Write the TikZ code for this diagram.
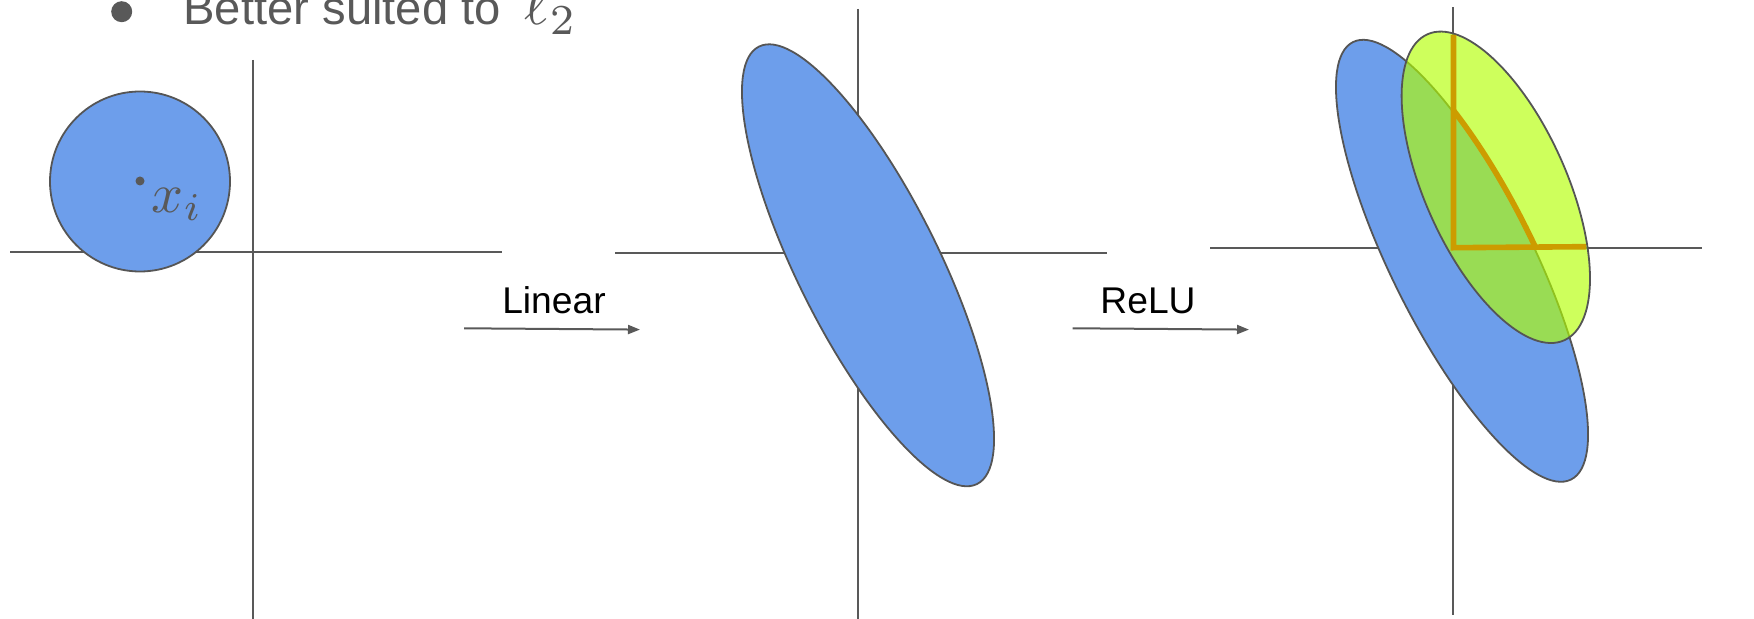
\documentclass[tikz,border=0pt]{standalone}
\usepackage{graphicx}
\usepackage{fontspec}
\setmainfont{Liberation Sans}
\usetikzlibrary{arrows.meta}
\definecolor{axisgrey}{HTML}{595959}
\definecolor{edgegrey}{HTML}{555555}
\definecolor{cornblue}{HTML}{6D9EEB}
\definecolor{limefill}{RGB}{178,255,0}
\definecolor{goldline}{RGB}{204,156,0}
\tikzset{
  axisline/.style={draw=axisgrey, line width=1pt},
  blob/.style={draw=edgegrey, line width=0.9pt, fill=cornblue},
  limeblob/.style={draw=edgegrey, line width=0.9pt, fill=limefill, fill opacity=0.64},
  mapArrow/.style={draw=axisgrey, line width=1pt, -{Triangle[length=6pt,width=4.5pt]}},
  maplabel/.style={inner sep=0pt, anchor=base, font=\fontsize{18.6pt}{22pt}\selectfont},
  relupath/.style={draw=goldline, line width=2.8pt}
}
\begin{document}
\begin{tikzpicture}[x=0.5pt, y=-0.5pt]
\useasboundingbox (0,0) rectangle (1754,619);

% title
\fill[axisgrey] (121.7,11.7) circle [radius=10.5];
\node[inner sep=0pt, anchor=base west, text=axisgrey, font=\fontsize{23.6pt}{28pt}\selectfont] (title) at (183,25) {Better suited to};
\node[inner sep=0pt, anchor=base west, text=axisgrey] (ltwo) at (524,25) {\scalebox{3.05}{$\ell_2$}};

% panel 1
\draw[axisline] (253,60) -- (253,619);
\draw[axisline] (10,252) -- (502,252);
\draw[blob] (140,181.5) circle [radius=90];
\fill[axisgrey] (140,181) circle [radius=4.5];
\node[inner sep=0pt, anchor=base west, text=axisgrey] (xi) at (151.5,212.5) {\scalebox{2.8}{$x_i$}};

% arrow 1
\coordinate (a1s) at (464,328.3);
\coordinate (a1e) at (640,329.6);
\draw[mapArrow] (a1s) -- (a1e);
\node[maplabel] (lin) at (554,313.3) {Linear};

% panel 2
\draw[axisline] (858.3,9) -- (858.3,619);
\draw[axisline] (615,252.8) -- (1107,252.8);
\draw[blob, shift={(868,265.3)}, rotate=-63.5] (0,0) ellipse [x radius=244.4, y radius=70.6];

% arrow 2
\coordinate (a2s) at (1072.7,328.3);
\coordinate (a2e) at (1249,329.6);
\draw[mapArrow] (a2s) -- (a2e);
\node[maplabel] (relu) at (1148,313.3) {ReLU};

% panel 3
\draw[axisline] (1452.7,7.3) -- (1452.7,615);
\draw[axisline] (1210,248) -- (1702,248);
\draw[blob, shift={(1462,260.8)}, rotate=-63.5] (0,0) ellipse [x radius=244.4, y radius=70.6];
\draw[limeblob, shift={(1495.8,187.3)}, rotate=-65.9] (0,0) ellipse [x radius=167.6, y radius=70.9];

\coordinate (orig) at (1453.5,247.7);
\coordinate (vtop) at (1453.5,35);
\coordinate (hend) at (1586,246.7);
\begin{scope}
  \clip (1453.5,0) rectangle (1754,247.7);
  \draw[relupath, shift={(1462,260.8)}, rotate=-63.5] (0,0) ellipse [x radius=245.5, y radius=72];
\end{scope}
\draw[relupath, line join=miter] (vtop) -- (orig) -- (hend);
\end{tikzpicture}
\end{document}
